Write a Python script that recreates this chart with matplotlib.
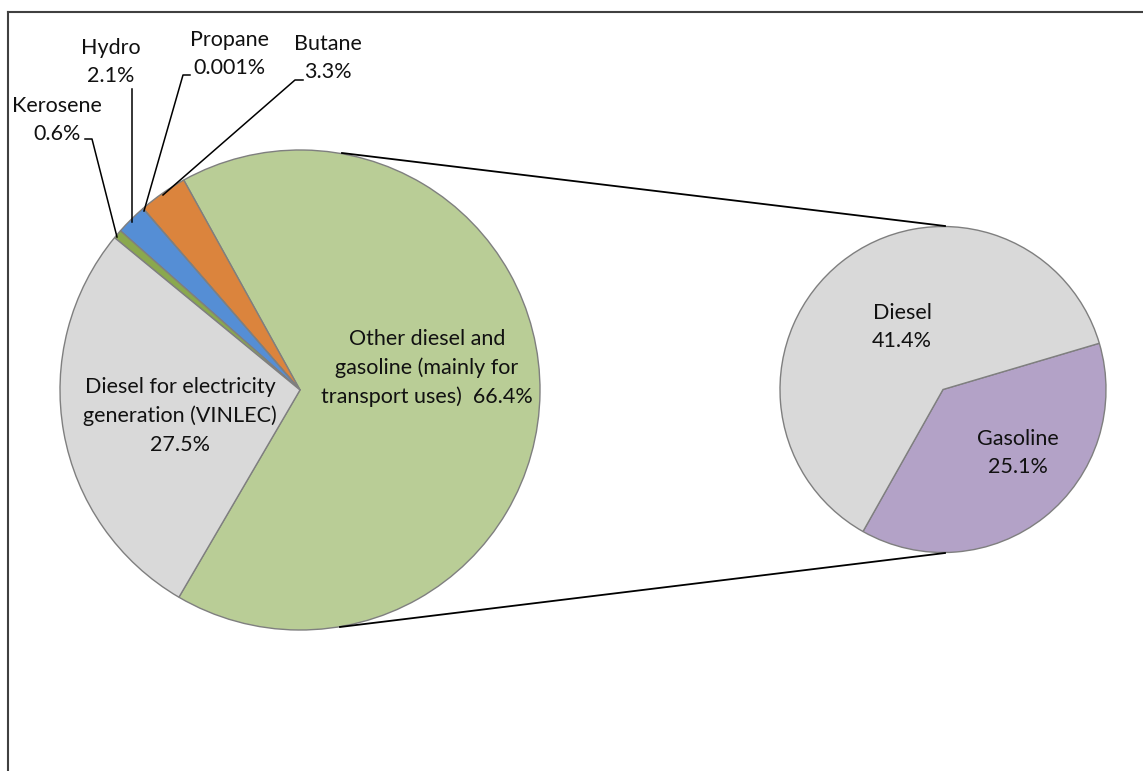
import matplotlib
matplotlib.use("Agg")
import matplotlib.pyplot as plt
from matplotlib.lines import Line2D

# ---- data ----
main_labels = ["Other diesel and\ngasoline (mainly for\ntransport uses)", "Butane", "Propane",
               "Hydro", "Kerosene", "Diesel for electricity\ngeneration (VINLEC)"]
main_values = [66.4, 3.3, 0.001, 2.1, 0.6, 27.5]
main_pct = ["66.4%", "3.3%", "0.001%", "2.1%", "0.6%", "27.5%"]
main_colors = ["#B9CD96", "#DB843D", "#C0504D", "#558ED5", "#8AA84E", "#D9D9D9"]

sub_labels = ["Gasoline", "Diesel"]
sub_values = [25.1, 41.4]
sub_pct = ["25.1%", "41.4%"]
sub_colors = ["#B3A2C7", "#D9D9D9"]

W, H = 1143, 771
fig = plt.figure(figsize=(W / 100, H / 100), dpi=100)
ax = fig.add_axes([0, 0, 1, 1])

def P(x, y):
    return x, H - y

FONT = ["Lato", "DejaVu Sans"]
FS = 15.5

edge = dict(edgecolor="#7F7F7F", linewidth=1.0)
ax.pie(main_values, colors=main_colors, startangle=-120.3, counterclock=True,
       center=P(300, 390), radius=240, wedgeprops=edge, frame=True)
ax.pie(sub_values, colors=sub_colors, startangle=-119.4, counterclock=True,
       center=P(943, 389.5), radius=163, wedgeprops=edge, frame=True)
ax.set_xlim(0, W)
ax.set_ylim(0, H)
ax.set_aspect("equal")
ax.axis("off")

# connector lines
ax.plot(*zip(P(342, 153), P(945, 226)), color="black", lw=1.3)
ax.plot(*zip(P(340, 627), P(945, 553)), color="black", lw=1.3)

def txt(x, y, s, **kw):
    ax.text(*P(x, y), s, ha="center", va="center", fontsize=FS, family=FONT,
            color="#111111", linespacing=1.52, **kw)

# in-slice labels
txt(427, 368, main_labels[0] + "  " + main_pct[0])
txt(180, 416, main_labels[5] + "\n" + main_pct[5])
txt(902, 327, sub_labels[1] + "\n" + sub_pct[1])
txt(1018, 453, sub_labels[0] + "\n" + sub_pct[0])

# outside labels
txt(57, 120, main_labels[4] + "\n" + main_pct[4])
txt(111, 62, main_labels[3] + "\n" + main_pct[3])
txt(229, 54, main_labels[2] + "\n" + main_pct[2])
txt(328, 58, main_labels[1] + "\n" + main_pct[1])

def leader(pts):
    xs, ys = zip(*[P(x, y) for x, y in pts])
    ax.add_line(Line2D(xs, ys, color="black", lw=1.1))

leader([(85, 139), (92, 139), (117, 237)])
leader([(132, 89), (132, 222)])
leader([(190, 75), (183, 75), (144, 211)])
leader([(303, 80), (295, 80), (163, 195)])

# frame lines (top and left)
ax.add_line(Line2D([7.5, W], [H - 11.5, H - 11.5], color="#404040", lw=1.5))
ax.add_line(Line2D([7.5, 7.5], [0, H - 11.5], color="#404040", lw=1.5))

fig.savefig("out.png", dpi=100)
